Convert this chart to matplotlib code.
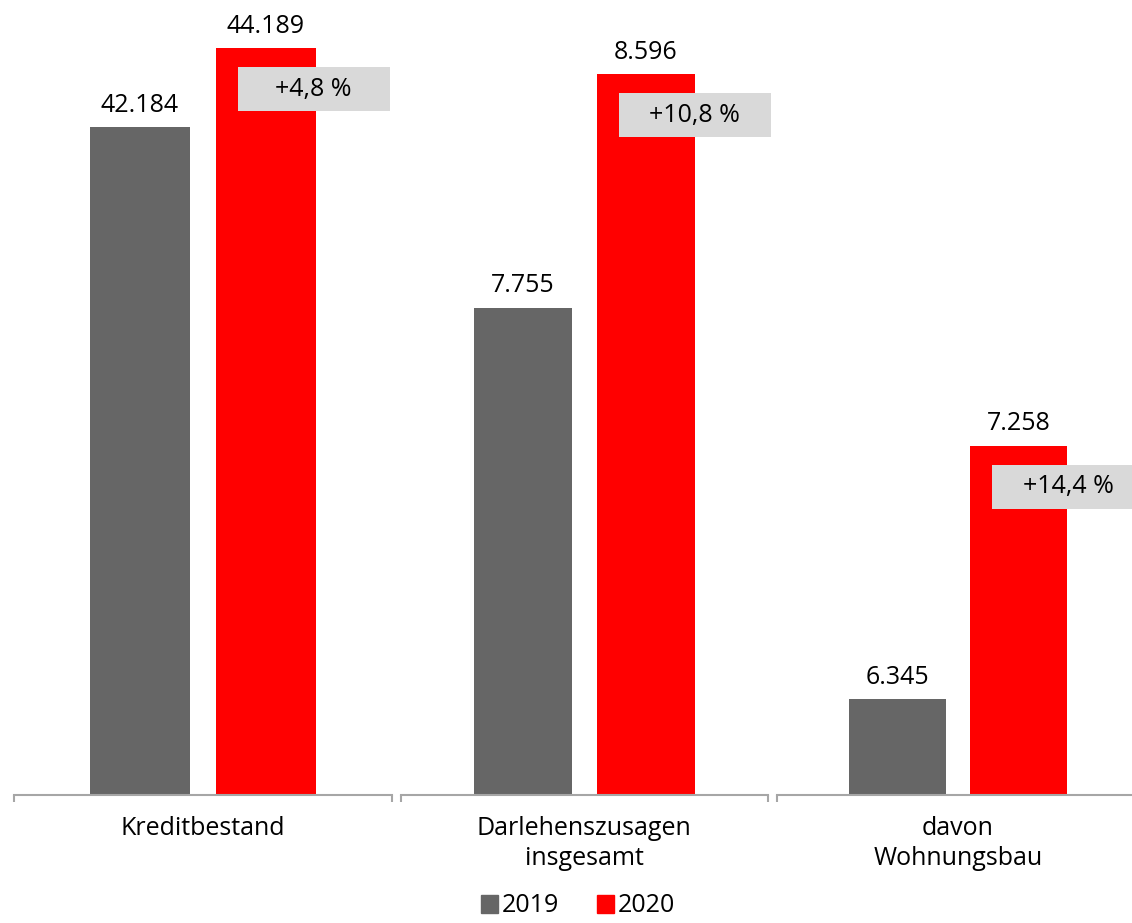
import matplotlib.pyplot as plt
from matplotlib.patches import Patch, Rectangle
from matplotlib.transforms import IdentityTransform

plt.rcParams['font.family'] = ['Open Sans', 'DejaVu Sans']

# Data
categories = ["Kreditbestand", "Darlehenszusagen\ninsgesamt", "davon\nWohnungsbau"]
years = ["2019", "2020"]
v2019 = [42184, 7755, 6345]
v2020 = [44189, 8596, 7258]
changes = ["+4,8 %", "+10,8 %", "+14,4 %"]

# each group is drawn on its own (cut) value axis, like the original
ylims = [(25230, 45408), (6000, 8863), (6000, 8863)]

GREY = '#666666'
RED = '#ff0000'
BOX = '#d9d9d9'
LINE = '#a6a6a6'

W, H = 1132, 923
fig = plt.figure(figsize=(W / 100, H / 100), dpi=100)

# axes placement in pixels: (left, width)
boxes = [(14, 378), (400.5, 367.5), (776.5, 363)]
base = 128
ax_h = 795

def fmt(v):
    return f"{v:,}".replace(",", ".")

for i, (left, width) in enumerate(boxes):
    ax = fig.add_axes([left / W, base / H, width / W, ax_h / H])
    ax.bar([0], [v2019[i] - ylims[i][0]], bottom=ylims[i][0], width=0.8, color=GREY)
    ax.bar([1], [v2020[i] - ylims[i][0]], bottom=ylims[i][0], width=0.8, color=RED)
    ax.set_xlim(-1, 2)
    ax.set_ylim(*ylims[i])

    for sp in ['top', 'left', 'right']:
        ax.spines[sp].set_visible(False)
    ax.spines['bottom'].set_color(LINE)
    ax.spines['bottom'].set_linewidth(1.5)
    ax.set_yticks([])
    ax.set_xticks([-1, 2])
    ax.set_xticklabels(['', ''])
    ax.tick_params(axis='x', direction='out', length=5, width=1.5, color=LINE)

    for x, v in [(0, v2019[i]), (1, v2020[i])]:
        ax.annotate(fmt(v), xy=(x, v), xytext=(0, 11), textcoords='offset points',
                    ha='center', va='baseline', fontsize=18, color='black')

    ax.text(0.5, -21 / ax_h, categories[i], transform=ax.transAxes,
            ha='center', va='top', fontsize=18, linespacing=1.25)

    # grey change box, placed in pixels relative to the red bar top-left
    fig.canvas.draw()
    px, py = ax.transData.transform((0.6, v2020[i]))
    bx, by, bw, bh = px + 22, py - 19 - 44, 152, 44
    fig.add_artist(Rectangle((bx, by), bw, bh, facecolor=BOX, edgecolor='none',
                             transform=IdentityTransform()))
    fig.text((bx + bw / 2) / W, (by + bh / 2) / H, changes[i], ha='center', va='center',
             fontsize=18, color='black')

handles = [Patch(color=GREY), Patch(color=RED)]
fig.legend(handles, years, loc='center', bbox_to_anchor=(578 / W, 1 - 906 / H),
           ncol=2, frameon=False, fontsize=18, handlelength=0.7, handleheight=0.7,
           handletextpad=0.15, columnspacing=1.5, borderpad=0)

fig.savefig('out.png', dpi=100)
